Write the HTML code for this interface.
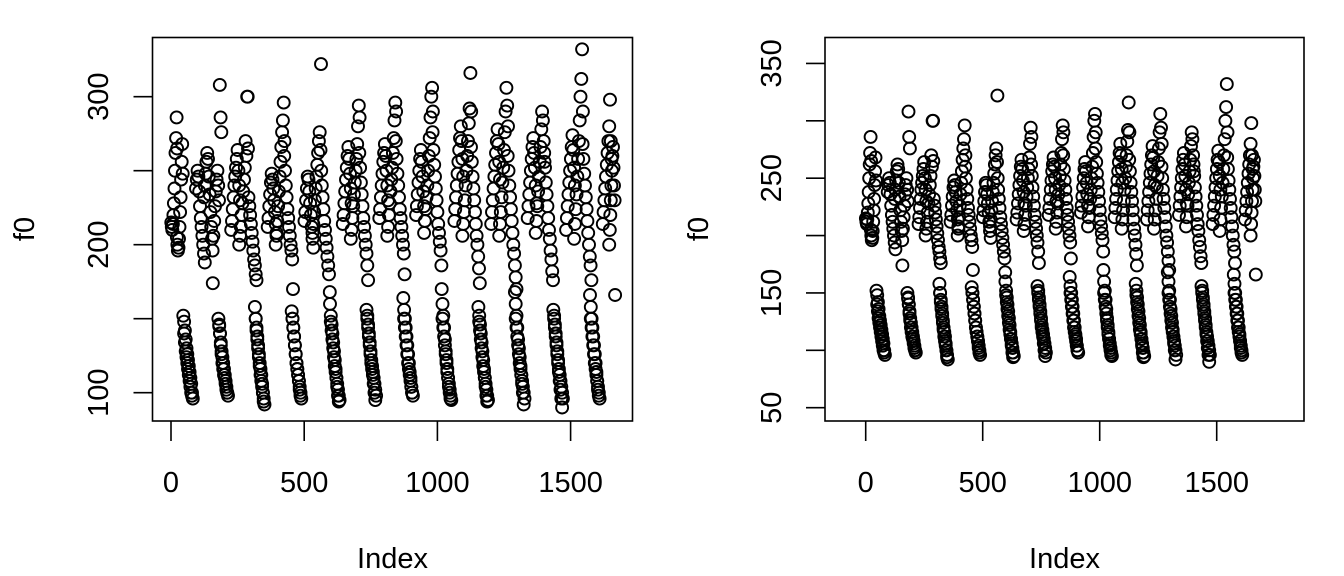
<!DOCTYPE html>
<html><head><meta charset="utf-8"><style>
html,body{margin:0;padding:0;background:#fff;}
svg{display:block;font-family:"Liberation Sans",Arial,sans-serif;}
</style></head><body>
<svg id="chart" width="1344" height="576" viewBox="0 0 1344 576">
<rect width="1344" height="576" fill="#fff"/>
</svg>
<script>
const segStart=[1,22,46,49,94,124,156,178,181,226,256,288,315,318,363,393,425,453,456,501,531,563,597,600,645,675,707,734,737,782,812,844,872,875,920,950,982,1016,1019,1064,1094,1126,1154,1157,1202,1232,1264,1291,1294,1339,1369,1401,1435,1438,1483,1513,1545,1573,1576,1621,1645];
const segStep=[2,2,3,3,3,3,3,3,3,3,3,3,3,3,3,3,3,3,3,3,3,3,3,3,3,3,3,3,3,3,3,3,3,3,3,3,3,3,3,3,3,3,3,3,3,3,3,3,3,3,3,3,3,3,3,3,3,3,3,3,2];
const segF0=[
[215,212,210,214,220,228,238,250,262,272,286,265],
[205,200,196,198,204,212,222,232,244,256,268,248],
[152,148,142,136,130,126,122,118,114,110,106,100],
[140,134,128,124,120,116,112,108,104,100,98,96],
[238,244,250,246,236,226,218,212,206,200,194,188],
[232,240,248,256,262,258,246,234,222,212,204,174],
[196,206,216,226,236,244,250,240,230,308,286,276],
[150,146,140,134,128,124,120,116,112,108,104,100],
[145,140,132,126,120,116,112,110,106,102,100,98],
[210,216,224,232,240,246,252,258,264,250,240,230],
[200,206,212,220,228,236,244,252,270,260,300,265],
[300,232,226,220,214,208,202,196,190,186,180,176],
[158,150,144,138,132,126,120,116,112,106,100,94],
[150,142,136,130,124,118,112,108,104,100,96,92],
[212,218,226,234,242,248,244,238,230,222,214,206],
[200,208,216,226,236,246,256,266,276,284,296,270],
[260,250,240,232,224,218,212,206,200,196,190,170],
[155,150,144,138,132,126,120,116,112,108,102,98],
[150,144,138,132,126,120,116,112,108,104,100,96],
[216,222,230,238,246,244,236,228,220,212,204,198],
[208,214,222,230,238,246,254,262,270,276,264,250],
[322,240,232,224,216,210,204,198,192,186,180,168],
[160,152,146,140,134,128,122,116,110,104,98,94],
[148,142,136,130,124,118,114,110,106,102,98,95],
[214,220,228,236,244,252,260,266,258,248,238,228],
[204,210,218,226,234,242,250,258,268,280,294,286],
[262,252,242,234,226,218,212,206,200,194,186,176],
[156,150,144,138,132,126,120,116,112,106,100,95],
[152,146,140,134,128,122,118,114,110,106,102,98],
[218,224,232,240,248,256,262,268,260,250,240,230],
[206,212,220,228,236,244,252,262,272,284,296,290],
[270,258,248,240,232,224,218,212,206,200,194,180],
[164,156,150,144,138,132,126,120,114,110,104,100],
[150,144,138,132,126,120,116,112,108,104,100,98],
[220,226,234,242,250,258,264,256,246,236,226,216],
[208,216,224,232,240,250,260,272,286,300,306,290],
[276,264,254,246,238,230,222,214,208,202,196,186],
[170,160,152,144,136,128,122,116,110,104,100,96],
[150,144,138,132,126,120,114,110,106,102,98,95],
[216,224,232,240,248,256,264,272,280,270,258,246],
[206,214,222,230,240,250,260,270,282,292,316,290],
[266,256,246,238,230,222,214,206,200,192,184,174],
[158,152,146,140,134,128,122,116,110,104,98,94],
[148,142,136,130,124,118,114,110,106,102,98,95],
[214,222,230,238,246,254,262,270,278,268,256,244],
[206,214,222,232,242,252,264,276,290,306,294,280],
[260,250,240,232,224,216,208,200,194,186,178,170],
[168,160,152,144,136,130,124,118,112,106,100,92],
[150,144,138,132,126,120,116,112,108,104,100,96],
[218,226,234,242,250,258,266,272,262,252,240,228],
[208,216,226,236,246,256,266,278,290,284,270,256],
[262,252,242,234,226,218,210,204,196,190,182,176],
[156,150,144,138,132,126,120,114,108,102,96,90],
[152,146,140,134,128,122,116,112,108,104,100,96],
[210,218,226,234,242,250,258,266,274,264,252,240],
[204,214,224,234,246,258,270,284,300,312,332,290],
[268,258,248,240,232,224,216,208,200,192,186,176],
[166,158,150,144,138,132,126,120,114,108,102,98],
[150,144,138,132,126,120,116,112,108,104,100,96],
[214,222,230,238,246,254,262,270,280,298,270,258],
[200,210,220,230,240,250,260,266,252,240,230,166]
];
const xTicks=[0,500,1000,1500];
const yTicksLeft=[100,150,200,250,300];
const yLabelsLeft=["100","","200","","300"];
const yTicksRight=[50,100,150,200,250,300,350];
const yLabelsRight=["50","","150","","250","","350"];

const NS="http://www.w3.org/2000/svg";
const svg=document.getElementById('chart');
function mk(tag,attrs,parent){const e=document.createElementNS(NS,tag);for(const k in attrs)e.setAttribute(k,attrs[k]);(parent||svg).appendChild(e);return e;}

const panels=[
 {id:'left',box:[152.5,37.5,632.5,421],x:v=>171+v*0.2664,y:v=>392.7-(v-100)*1.48,yt:yTicksLeft,yl:yLabelsLeft,ylx:108,fx:34},
 {id:'right',box:[825,37.5,1304,421],x:v=>865.7+v*0.234,y:v=>407.7-(v-50)*1.1475,yt:yTicksRight,yl:yLabelsRight,ylx:781,fx:708}
];

panels.forEach(p=>{
 const g=mk('g',{});
 
 
 const [x0,y0,x1,y1]=p.box;
 const pts=mk('g',{fill:'none',stroke:'#000','stroke-width':1.9},g);
 
 
 segStart.forEach((s,si)=>{
  segF0[si].forEach((v,k)=>{
   const c=mk('circle',{cx:p.x(s+k*segStep[si]).toFixed(1),cy:p.y(v).toFixed(1),r:6},pts);
   
   
  });
 });
 const box=mk('rect',{x:x0,y:y0,width:x1-x0,height:y1-y0,fill:'none',stroke:'#000','stroke-width':1.6},g);
 
 
 const xa=mk('g',{},g);
 
 
 xTicks.forEach(t=>{
  const X=p.x(t);
  mk('line',{x1:X,y1:y1,x2:X,y2:y1+20,stroke:'#000','stroke-width':1.6},xa);
  const tx=mk('text',{x:X,y:492,'font-size':29,'text-anchor':'middle',fill:'#000'},xa);
  tx.textContent=String(t);
  
  
 });
 const xt=mk('text',{x:(x0+x1)/2,y:568,'font-size':29,'text-anchor':'middle',fill:'#000'},g);
 xt.textContent='Index';
 
 
 const ya=mk('g',{},g);
 
 
 p.yt.forEach((t,i)=>{
  const Y=p.y(t);
  mk('line',{x1:x0-19,y1:Y,x2:x0,y2:Y,stroke:'#000','stroke-width':1.6},ya);
  if(p.yl[i]){
   const tx=mk('text',{x:p.ylx,y:Y,'font-size':29,'text-anchor':'middle',fill:'#000',transform:`rotate(-90 ${p.ylx} ${Y})`},ya);
   tx.textContent=p.yl[i];
   
   
  }
 });
 const yt=mk('text',{x:p.fx,y:229,'font-size':29,'text-anchor':'middle',fill:'#000',transform:`rotate(-90 ${p.fx} 229)`},g);
 yt.textContent='f0';
 
 
});
</script>
</body></html>
